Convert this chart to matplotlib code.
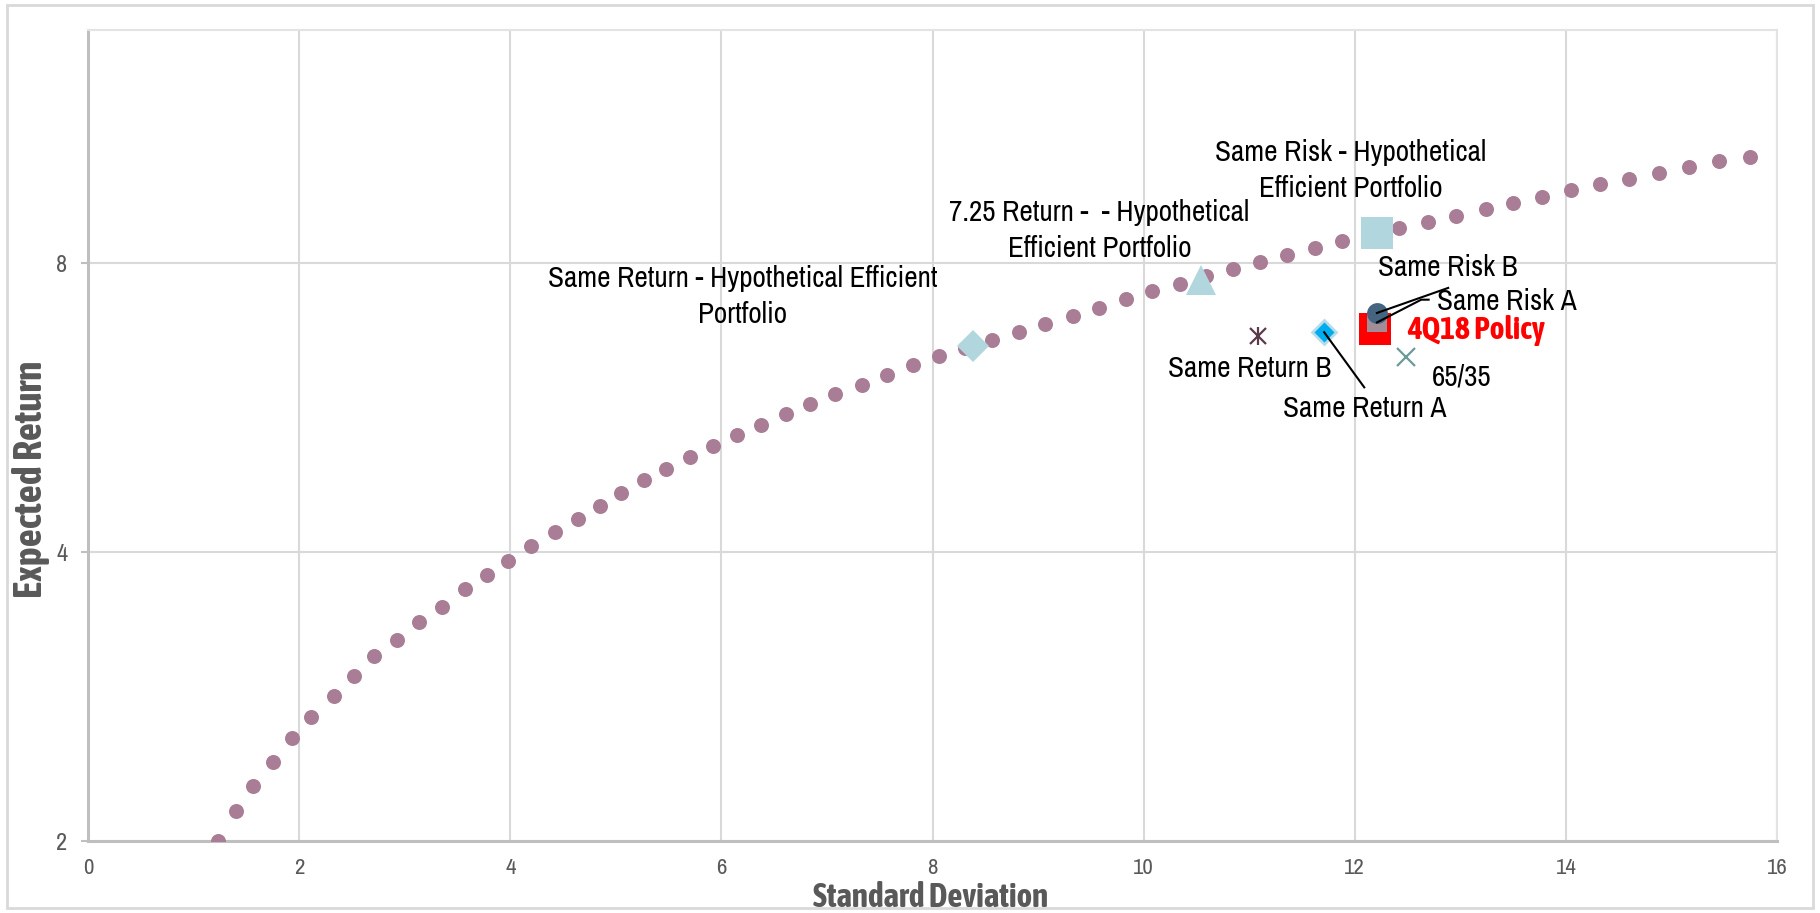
import matplotlib
matplotlib.use("Agg")
import matplotlib.pyplot as plt
from matplotlib.patches import Rectangle
from matplotlib import font_manager

# Efficient frontier (standard deviation, expected return)
frontier_sd = [1.23, 1.40, 1.56, 1.75, 1.93, 2.11, 2.33, 2.52, 2.71, 2.93,
               3.14, 3.35, 3.57, 3.78, 3.98, 4.20, 4.42, 4.64, 4.85, 5.05,
               5.27, 5.48, 5.70, 5.92, 6.15, 6.38, 6.61, 6.84, 7.08, 7.33,
               7.57, 7.82, 8.06, 8.31, 8.56, 8.82, 9.07, 9.33, 9.58, 9.83,
               10.08, 10.34, 10.59, 10.85, 11.10, 11.36, 11.62, 11.88, 12.16, 12.42,
               12.69, 12.96, 13.24, 13.50, 13.77, 14.05, 14.32, 14.60, 14.88, 15.17,
               15.45, 15.74]
frontier_ret = [2.00, 2.15, 2.28, 2.42, 2.56, 2.69, 2.83, 2.97, 3.12, 3.24,
                3.38, 3.51, 3.66, 3.79, 3.92, 4.06, 4.20, 4.33, 4.47, 4.61,
                4.75, 4.88, 5.02, 5.16, 5.30, 5.43, 5.57, 5.71, 5.84, 5.98,
                6.12, 6.26, 6.40, 6.53, 6.65, 6.78, 6.92, 7.05, 7.19, 7.34,
                7.48, 7.61, 7.75, 7.89, 8.02, 8.16, 8.29, 8.43, 8.55, 8.70,
                8.84, 8.96, 9.12, 9.25, 9.38, 9.53, 9.67, 9.80, 9.94, 10.08,
                10.22, 10.33]

# Individual portfolios
same_return_eff = (8.385, 6.56)
return_725_eff = (10.54, 7.69)
same_risk_eff = (12.21, 8.61)
policy_4q18 = (12.19, 6.84)
same_risk_a = (12.21, 6.94)
same_risk_b = (12.21, 7.10)
same_return_a = (11.71, 6.78)
same_return_b = (11.08, 6.72)
mix_65_35 = (12.49, 6.39)

x_ticks = [0, 2, 4, 6, 8, 10, 12, 14, 16]
y_ticks = [2, 4, 8]

# Pick a narrow face for regular and for bold text; fall back to a
# regular-width face drawn a little smaller.
faces = font_manager.fontManager.ttflist


def weights(name):
    out = set()
    for f in faces:
        if f.name == name:
            w = f.weight
            if isinstance(w, str):
                w = font_manager.weight_dict.get(w, 400)
            out.add(int(w))
    return out


narrow_names = sorted({f.name for f in faces if ("Narrow" in f.name or "Condensed" in f.name)},
                      key=lambda n: (0 if "Liberation" in n else 1 if "Arial" in n else 2, n))
reg_font, reg_k = "Liberation Sans", 0.835
bold_font, bold_k = "Liberation Sans", 0.835
for n in narrow_names:
    w = weights(n)
    if reg_font == "Liberation Sans" and any(350 <= x <= 500 for x in w):
        reg_font, reg_k = n, 1.0
    if bold_font == "Liberation Sans" and any(x >= 600 for x in w):
        bold_font, bold_k = n, 1.08
plt.rcParams["font.family"] = [reg_font, "DejaVu Sans"]

fig = plt.figure(figsize=(18.2, 9.13), dpi=100)
ax = fig.add_axes([88 / 1820, 1 - 841 / 913, (1777 - 88) / 1820, (841 - 30) / 913])

# outer chart frame
fig.patches.append(Rectangle((7 / 1820, 1 - 908 / 913), (1813 - 7) / 1820, (908 - 5) / 913,
                             transform=fig.transFigure, fill=False,
                             edgecolor="#d9d9d9", linewidth=2))

ax.set_yscale("log", base=2)
ax.set_xlim(0, 16)
ax.set_ylim(2, 14)
ax.set_xticks(x_ticks)
ax.set_xticklabels([str(v) for v in x_ticks])
ax.set_yticks(y_ticks)
ax.set_yticklabels([str(v) for v in y_ticks])
ax.yaxis.set_minor_locator(matplotlib.ticker.NullLocator())
ax.grid(True, color="#d9d9d9", linewidth=1.5)
ax.set_axisbelow(True)
for side in ("top", "right"):
    ax.spines[side].set_color("#e3e3e3")
    ax.spines[side].set_linewidth(1.5)
for side in ("left", "bottom"):
    ax.spines[side].set_color("#bfbfbf")
    ax.spines[side].set_linewidth(2.2)
ax.tick_params(axis="x", length=0, pad=12, labelsize=16.5 * (reg_k ** 0.5), labelcolor="#595959")
ax.tick_params(axis="y", length=5, width=1.5, color="#bfbfbf", pad=10,
               labelsize=17.5 * (reg_k ** 0.5), labelcolor="#595959")

bold_fam = [bold_font, "DejaVu Sans"]
fig.text(931 / 1820, 1 - 897 / 913, "Standard Deviation", ha="center", va="center",
         fontsize=23 * bold_k * 0.96, fontweight="bold", color="#595959", family=bold_fam)
fig.text(31 / 1820, 1 - 479 / 913, "Expected Return", ha="center", va="center",
         rotation=90, fontsize=23 * bold_k * 1.15, fontweight="bold", color="#595959",
         family=bold_fam)

# frontier
ax.plot(frontier_sd, frontier_ret, linestyle="none", marker="o", markersize=10.8,
        color="#a97d95", markeredgewidth=0, zorder=3)

# highlighted portfolios
ax.plot(*same_return_eff, marker="D", markersize=16, color="#b1d6dd", markeredgewidth=0, zorder=4)
ax.plot(*return_725_eff, marker="^", markersize=22, color="#b1d6dd", markeredgewidth=0, zorder=4)
ax.plot(*same_risk_eff, marker="s", markersize=23, color="#b1d6dd", markeredgewidth=0, zorder=4)
ax.plot(*policy_4q18, marker="s", markersize=23, color="#ff0000", markeredgewidth=0, zorder=4)
ax.plot(*same_risk_a, marker="s", markersize=14.4, color="#a08d98", markeredgewidth=0, zorder=5)
ax.plot(*same_risk_b, marker="o", markersize=15, color="#44647f", markeredgewidth=0, zorder=6)
ax.plot(*same_return_a, marker="D", markersize=12.5, color="#00aeef",
        markeredgecolor="#b8dcea", markeredgewidth=2, zorder=5)
ax.plot(*same_return_b, marker="x", markersize=11, color="#5b3a4d", markeredgewidth=1.6, zorder=5)
ax.plot(*same_return_b, marker="|", markersize=13, color="#5b3a4d", markeredgewidth=1.6, zorder=5)
ax.plot(*mix_65_35, marker="x", markersize=13.5, color="#6b9b99", markeredgewidth=1.6, zorder=5)

# leader lines
ax.plot([same_risk_b[0], 12.885], [same_risk_b[1], 7.54], color="black", linewidth=1.5, zorder=7)
ax.plot([same_risk_a[0], 12.63, 12.70], [same_risk_a[1], 7.33, 7.33], color="black", linewidth=1.5, zorder=7)
ax.plot([same_return_a[0], 12.09], [same_return_a[1], 5.94], color="black", linewidth=1.5, zorder=7)

fs = 21 * reg_k
lab = dict(ha="center", va="center", fontsize=fs, color="black", linespacing=1.4, zorder=8)
ax.text(11.96, 10.0, "Same Risk - Hypothetical\nEfficient Portfolio", **lab)
ax.text(9.58, 8.66, "7.25 Return -  - Hypothetical\nEfficient Portfolio", **lab)
ax.text(6.20, 7.39, "Same Return - Hypothetical Efficient\nPortfolio", **lab)
ax.text(12.88, 7.91, "Same Risk B", **lab)
ax.text(13.44, 7.29, "Same Risk A", **lab)
ax.text(13.01, 6.09, "65/35", **lab)
ax.text(11.00, 6.21, "Same Return B", **lab)
ax.text(12.09, 5.65, "Same Return A", **lab)
ax.text(13.155, 6.80, "4Q18 Policy", ha="center", va="center", fontsize=21 * bold_k,
        fontweight="bold", color="#ff0000", family=bold_fam, zorder=8)

fig.savefig("out.png", dpi=100)
